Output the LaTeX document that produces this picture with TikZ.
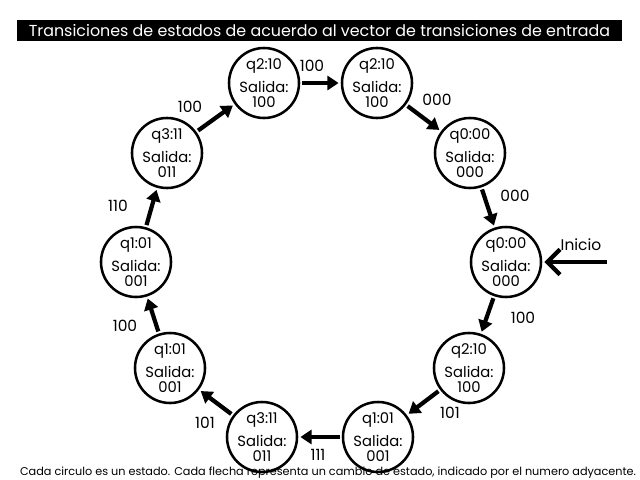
\documentclass[tikz,border=0pt]{standalone}
\usepackage{fontspec}
\setmainfont{Poppins}
\usetikzlibrary{arrows.meta}

\begin{document}
\begin{tikzpicture}[x=0.025cm, y=-0.025cm,
  every node/.style={font=\fontsize{10.5}{10.5}\selectfont},
  estado/.style={draw, circle, line width=1.8pt, minimum size=1.75cm, inner sep=0pt, align=center},
  flecha/.style={-{Triangle[length=8pt,width=10pt]}, line width=3pt, shorten <=1.5pt, shorten >=1.5pt},
  etiqueta/.style={font=\fontsize{11}{11}\selectfont}]
\useasboundingbox (0,0) rectangle (640,480);

% titulo y nota
\node[fill=black, text=white, minimum width=605*0.025cm, minimum height=21*0.025cm, inner sep=0pt,
  font=\fontsize{11.3}{12}\selectfont] (titulo) at (319.5,30.5) {Transiciones de estados de acuerdo al vector de transiciones de entrada};
\node[font=\fontsize{8}{8}\selectfont] (nota) at (328,473) {Cada circulo es un estado. Cada flecha representa un cambio de estado, indicado por el numero adyacente.};

% estados
\node[estado] (qa) at (264,83) {q2:10\\[5pt]Salida:\\100};
\node[estado] (qb) at (377,83) {q2:10\\[5pt]Salida:\\100};
\node[estado] (qc) at (470,153) {q0:00\\[5pt]Salida:\\000};
\node[estado] (qd) at (506,262) {q0:00\\[5pt]Salida:\\000};
\node[estado] (qe) at (469,368) {q2:10\\[5pt]Salida:\\100};
\node[estado] (qf) at (378,437) {q1:01\\[5pt]Salida:\\001};
\node[estado] (qg) at (262,437) {q3:11\\[5pt]Salida:\\011};
\node[estado] (qh) at (170,368) {q1:01\\[5pt]Salida:\\001};
\node[estado] (qi) at (136,262) {q1:01\\[5pt]Salida:\\001};
\node[estado] (qj) at (167,153) {q3:11\\[5pt]Salida:\\011};

% transiciones
\draw[flecha] (qd) -- (qe);
\draw[flecha] (qe) -- (qf);
\draw[flecha] (qf) -- (qg);
\draw[flecha] (qg) -- (qh);
\draw[flecha] (qh) -- (qi);
\draw[flecha] (qi) -- (qj);
\draw[flecha] (qj) -- (qa);
\draw[flecha] (qa) -- (qb);
\draw[flecha] (qb) -- (qc);
\draw[flecha] (qc) -- (qd);

\node[etiqueta] (e1) at (523,318) {100};
\node[etiqueta] (e2) at (450,413) {101};
\node[etiqueta] (e3) at (318,455) {111};
\node[etiqueta] (e4) at (205,423) {101};
\node[etiqueta] (e5) at (125,326) {100};
\node[etiqueta] (e6) at (118,206) {110};
\node[etiqueta] (e7) at (190,107) {100};
\node[etiqueta] (e8) at (312,66) {100};
\node[etiqueta] (e9) at (437,100) {000};
\node[etiqueta] (e10) at (515,196) {000};

% inicio
\coordinate (entrada) at (607,262);
\node[etiqueta] (inicio) at (581,245) {Inicio};
\draw[-{Straight Barb[length=9pt,width=18pt]}, line width=3pt, shorten >=1.5pt] (entrada) -- (qd);
\end{tikzpicture}
\end{document}
